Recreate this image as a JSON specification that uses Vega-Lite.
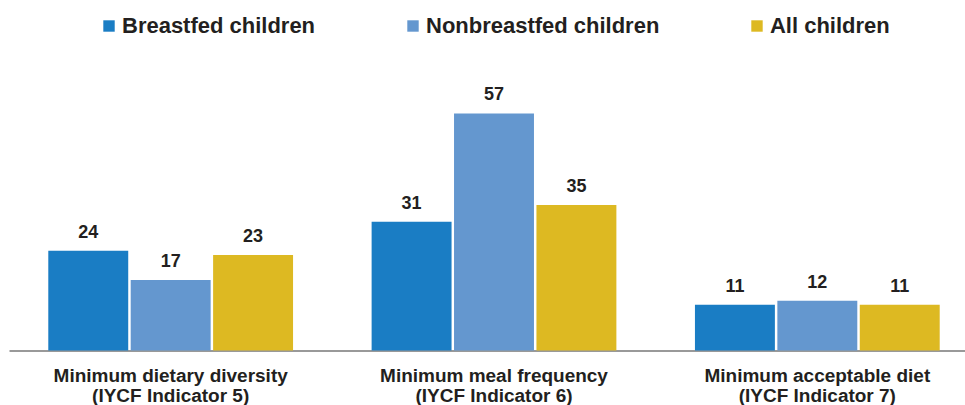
{
  "$schema": "https://vega.github.io/schema/vega-lite/v6.json",
  "width": 970,
  "height": 249.6,
  "autosize": {"type": "none"},
  "padding": {"left": 9, "top": 101, "right": 0, "bottom": 55},
  "background": "white",
  "config": {"view": {"stroke": null}, "font": "Liberation Sans"},
  "data": {
    "values": [
      {"indicator": "Minimum dietary diversity|(IYCF Indicator 5)", "group": "Breastfed children", "value": 24},
      {"indicator": "Minimum dietary diversity|(IYCF Indicator 5)", "group": "Nonbreastfed children", "value": 17},
      {"indicator": "Minimum dietary diversity|(IYCF Indicator 5)", "group": "All children", "value": 23},
      {"indicator": "Minimum meal frequency|(IYCF Indicator 6)", "group": "Breastfed children", "value": 31},
      {"indicator": "Minimum meal frequency|(IYCF Indicator 6)", "group": "Nonbreastfed children", "value": 57},
      {"indicator": "Minimum meal frequency|(IYCF Indicator 6)", "group": "All children", "value": 35},
      {"indicator": "Minimum acceptable diet|(IYCF Indicator 7)", "group": "Breastfed children", "value": 11},
      {"indicator": "Minimum acceptable diet|(IYCF Indicator 7)", "group": "Nonbreastfed children", "value": 12},
      {"indicator": "Minimum acceptable diet|(IYCF Indicator 7)", "group": "All children", "value": 11}
    ]
  },
  "encoding": {
    "x": {
      "field": "indicator", "type": "nominal", "sort": null,
      "scale": {"paddingInner": 0.243, "paddingOuter": 0.1215},
      "axis": {
        "title": null, "labelAngle": 0, "ticks": false,
        "domainColor": "#999999", "domainWidth": 2,
        "labelExpr": "split(datum.value, '|')",
        "labelFont": "Liberation Sans", "labelFontWeight": "bold", "labelFontSize": 19,
        "labelColor": "#231F20", "labelPadding": 16, "labelLineHeight": 20,
        "labelLimit": 400
      }
    },
    "xOffset": {
      "field": "group", "type": "nominal",
      "sort": ["Breastfed children", "Nonbreastfed children", "All children"],
      "scale": {"paddingInner": 0.03, "paddingOuter": 0}
    },
    "y": {
      "field": "value", "type": "quantitative",
      "scale": {"domain": [0, 60], "nice": false},
      "axis": null
    }
  },
  "layer": [
    {
      "mark": {"type": "bar"},
      "encoding": {
        "color": {
          "field": "group", "type": "nominal",
          "sort": ["Breastfed children", "Nonbreastfed children", "All children"],
          "scale": {
            "domain": ["Breastfed children", "Nonbreastfed children", "All children"],
            "range": ["#1A7DC4", "#6497CF", "#DDB922"]
          },
          "legend": {
            "title": null, "orient": "none", "direction": "horizontal",
            "legendX": 89, "legendY": -86,
            "symbolType": "square", "symbolSize": 130, "symbolStrokeWidth": 0,
            "labelFont": "Liberation Sans", "labelFontWeight": "bold", "labelFontSize": 22,
            "labelColor": "#231F20", "labelOffset": 2, "columnPadding": 86,
            "labelLimit": 400
          }
        }
      }
    },
    {
      "mark": {"type": "text", "baseline": "bottom", "dy": -9, "font": "Liberation Sans", "fontWeight": "bold", "fontSize": 18, "color": "#231F20"},
      "encoding": {"text": {"field": "value", "type": "quantitative"}}
    }
  ]
}
